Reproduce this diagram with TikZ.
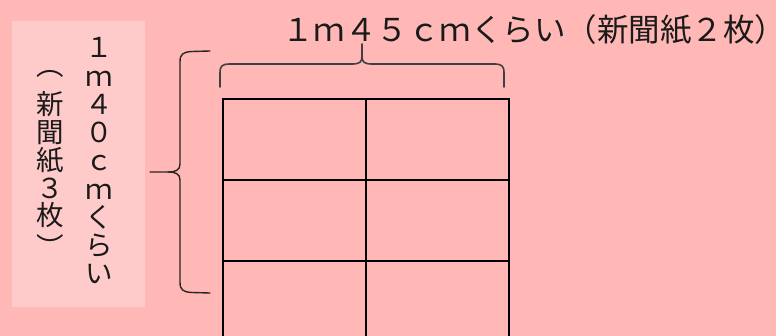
\documentclass[tikz,border=0pt]{standalone}
\usepackage{fontspec}
\newfontfamily\jpfont{Noto Sans CJK JP}
\definecolor{sheetpink}{RGB}{255,184,181}
\definecolor{tagpink}{RGB}{255,202,202}
\definecolor{inkgray}{RGB}{26,26,26}

\begin{document}
\begin{tikzpicture}[
        x=1pt, y=-1pt,
        cell/.style={draw=black, line width=2pt, minimum width=143.2pt, minimum height=81pt, inner sep=0pt, outer sep=0pt},
        vchar/.style={anchor=base, inner sep=0pt, text=inkgray, font=\jpfont\fontsize{27.5}{28}\selectfont},
        hlabel/.style={anchor=base west, inner sep=0pt, text=inkgray, font=\jpfont\fontsize{31.5}{32}\selectfont},
        brace/.style={line width=1.6pt, line cap=round, line join=round}
        ]
        \useasboundingbox (0,0) rectangle (776,336);
        \clip (0,0) rectangle (776,336);
        \fill[sheetpink] (0,0) rectangle (776,336);

        % label panel on the left
        \node[fill=tagpink, minimum width=133pt, minimum height=286pt, inner sep=0pt] (tag) at (78.5,164) {};
        \foreach \ch/\dy [count=\i] in {︵/-12,新/0,聞/0,紙/0,３/0,枚/0,︶/4}
            \node[vchar] (sheets-\i) at (50,{87.25+27.75*(\i-1)+\dy}) {\ch};
        \foreach \ch [count=\i] in {１,ｍ,４,０,ｃ,ｍ,く,ら,い}
            \node[vchar] (height-\i) at (99,{58+28.25*(\i-1)}) {\ch};

        % width label
        \node[hlabel] (width) at (282,42) {１ｍ４５ｃｍくらい（新聞紙２枚）\kern-20pt};

        % newspaper sheets
        \foreach \r in {1,2,3}
            \foreach \c in {1,2}
                \node[cell] (cell-\r-\c) at ({222.7+143.2*(\c-0.5)},{99+81*(\r-0.5)}) {};

        % top brace
        \draw[brace, draw=black!75] (220,87) -- (220,73) .. controls (220,66) and (222,64) .. (230,64) -- (352,64)
            .. controls (360,64) and (362,62) .. (362,56) -- (362,44);
        \draw[brace, draw=black!75] (504,87) -- (504,73) .. controls (504,66) and (502,64) .. (494,64) -- (372,64)
            .. controls (364,64) and (362,62) .. (362,56);

        % left brace
        \draw[brace, line width=1.4pt, draw=black!85] (210,51) -- (192,51.5) .. controls (183,52) and (180,54) .. (180,62) -- (180,164)
            .. controls (180,170) and (176,172) .. (168,172) -- (150,172);
        \draw[brace, line width=1.4pt, draw=black!85] (210,293) -- (192,292.5) .. controls (183,292) and (180,290) .. (180,282) -- (180,180)
            .. controls (180,174) and (176,172) .. (168,172);
    \end{tikzpicture}
\end{document}
